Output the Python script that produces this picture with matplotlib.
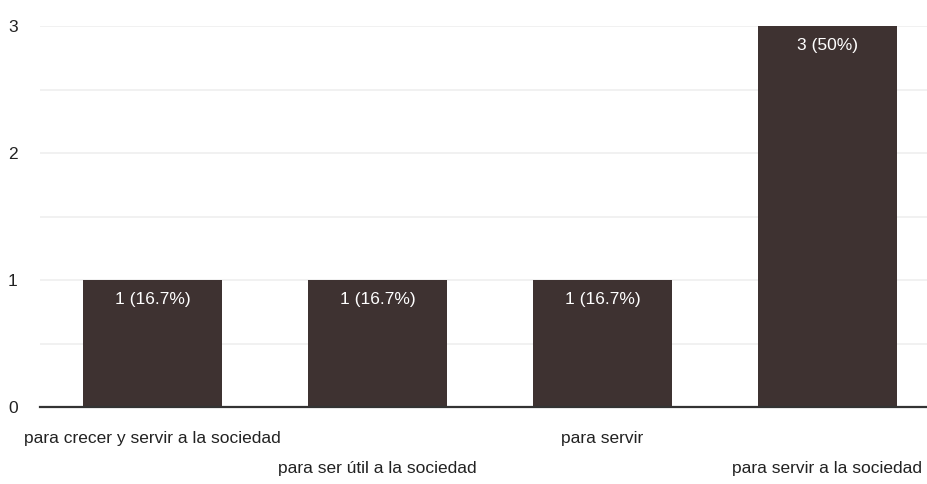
import matplotlib.pyplot as plt
from matplotlib import font_manager

categories = ['para crecer y servir a la sociedad', 'para ser útil a la sociedad',
              'para servir', 'para servir a la sociedad']
counts = [1, 1, 1, 3]
bar_labels = ['1 (16.7%)', '1 (16.7%)', '1 (16.7%)', '3 (50%)']

names = {f.name for f in font_manager.fontManager.ttflist}
family = 'Liberation Sans Narrow' if 'Liberation Sans Narrow' in names else 'Liberation Sans'
plt.rcParams['font.family'] = [family, 'DejaVu Sans']

fig = plt.figure(figsize=(9.28, 4.84), dpi=100)
ax = fig.add_axes([40 / 928, 77 / 484, 888 / 928, 381 / 484])

x = list(range(len(categories)))
bars = ax.bar(x, counts, width=0.617, color='#3e3231', zorder=3)

# value labels inside the top of each bar
for b, lab in zip(bars, bar_labels):
    ax.annotate(lab, (b.get_x() + b.get_width() / 2, b.get_height()),
                xytext=(0, -8.5), textcoords='offset points',
                ha='center', va='top', color='white', fontsize=12.5, zorder=4)

ax.set_xlim(-0.5, 3.447)
ax.set_ylim(0, 3)
ax.set_yticks([0, 1, 2, 3])
ax.set_yticks([0.5, 1.5, 2.5], minor=True)
ax.grid(axis='y', which='both', color='#efefef', linewidth=1.2, zorder=0)

for s in ['top', 'right', 'left']:
    ax.spines[s].set_visible(False)
ax.spines['bottom'].set_color('#333333')
ax.spines['bottom'].set_linewidth(1.6)
ax.spines['bottom'].set_zorder(5)

ax.set_xticks(x)
ax.set_xticklabels(categories, fontsize=12.5, color='#222222')
ax.tick_params(axis='x', length=0)
ax.tick_params(axis='y', which='both', length=0, labelsize=12.5, labelcolor='#222222', pad=16)
for i, t in enumerate(ax.xaxis.get_major_ticks()):
    t.set_pad(17 if i % 2 == 0 else 39)

fig.savefig('out.png', dpi=100)
